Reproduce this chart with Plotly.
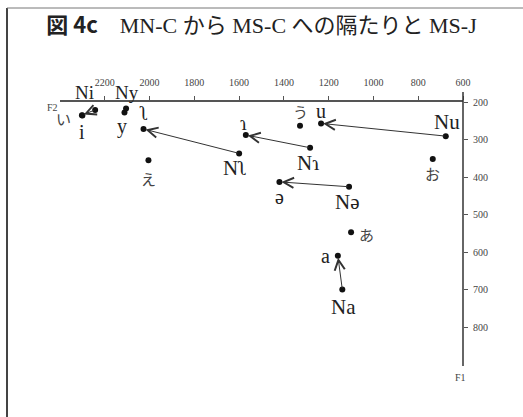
import plotly.graph_objects as go

# MS-C vowels (arrow targets)
ms_c_labels = ["i", "y", "ʅ", "ɿ", "u", "ə", "a"]
ms_c_f2 = [2302, 2112, 2027, 1570, 1234, 1420, 1159]
ms_c_f1 = [235, 228, 272, 288, 257, 413, 610]

# MN-C vowels (arrow origins)
mn_c_labels = ["Ni", "Ny", "Nʅ", "Nɿ", "Nu", "Nə", "Na"]
mn_c_f2 = [2243, 2105, 1600, 1283, 677, 1109, 1139]
mn_c_f1 = [221, 217, 337, 322, 291, 426, 700]

# MS-J vowels
ms_j_labels = ["い", "え", "あ", "お", "う"]
ms_j_f2 = [2300, 2005, 1100, 735, 1328]
ms_j_f1 = [236, 355, 547, 352, 263]

f2_ticks = [2200, 2000, 1800, 1600, 1400, 1200, 1000, 800, 600]
f1_ticks = [200, 300, 400, 500, 600, 700, 800]

W, H = 523, 417
ML, MR, MT, MB = 60, 60, 102, 51
PW, PH = W - ML - MR, H - MT - MB

def px_x(p):
    return (p - ML) / PW

def px_y(p):
    return 1 - (p - MT) / PH

# label offsets in screen pixels (dx right, dy down)
label_offsets = {
    "Ni": (-11, -17), "Ny": (1, -16), "Nʅ": (-4, 15), "Nɿ": (-2, 15),
    "Nu": (1, -14), "Nə": (-2, 15), "Na": (1, 17),
    "i": (0, 17), "y": (-2, 14), "ʅ": (0, -16), "ɿ": (-2, -12),
    "u": (0, -12), "ə": (0, 15), "a": (-12, 0),
    "い": (-19, 3), "え": (0, 18), "あ": (15, 2), "お": (0, 14), "う": (0, -14),
}
# labels that sit in the crowded strip beside the F2 tick labels
label_sizes = {"Ni": 19, "Ny": 19}

serif = "Liberation Serif, DejaVu Serif, Noto Sans CJK JP, serif"
jp = "Noto Sans CJK JP, sans-serif"

fig = go.Figure()
all_f2 = ms_c_f2 + mn_c_f2 + ms_j_f2
all_f1 = ms_c_f1 + mn_c_f1 + ms_j_f1
fig.add_trace(go.Scatter(
    x=all_f2, y=all_f1, mode="markers",
    marker=dict(size=6, color="#111"), hoverinfo="skip", showlegend=False,
))

annotations = []
# arrows MN-C -> MS-C
for x0, y0, x1, y1 in zip(mn_c_f2, mn_c_f1, ms_c_f2, ms_c_f1):
    annotations.append(dict(
        x=x1, y=y1, ax=x0, ay=y0, xref="x", yref="y", axref="x", ayref="y",
        showarrow=True, arrowhead=5, arrowsize=2.0, arrowwidth=1,
        arrowcolor="#333", standoff=2, text="",
    ))

def add_labels(labels, xs, ys, size, color, family):
    for lab, x, y in zip(labels, xs, ys):
        dx, dy = label_offsets[lab]
        annotations.append(dict(
            x=x, y=y, xref="x", yref="y", text=lab, showarrow=False,
            xshift=dx, yshift=-dy,
            font=dict(size=label_sizes.get(lab, size), color=color, family=family),
        ))

add_labels(mn_c_labels, mn_c_f2, mn_c_f1, 21, "#222", serif)
add_labels(ms_c_labels, ms_c_f2, ms_c_f1, 20, "#222", serif)
add_labels(ms_j_labels, ms_j_f2, ms_j_f1, 15, "#444", jp)

# axis names
annotations.append(dict(x=px_x(45), y=px_y(100), xref="paper", yref="paper", text="F2",
                        showarrow=False, font=dict(size=10, color="#444", family=serif)))
annotations.append(dict(x=px_x(468), y=px_y(385), xref="paper", yref="paper", text="F1",
                        showarrow=False, font=dict(size=10, color="#444", family=serif)))

shapes = [
    # F1 axis line, running a little above the F2 axis
    dict(type="line", xref="paper", yref="paper", x0=1, x1=1, y0=0, y1=px_y(92),
         line=dict(color="#333", width=1.5)),
    # frame (left and top edges)
    dict(type="line", xref="paper", yref="paper", x0=px_x(7), x1=px_x(7), y0=px_y(8), y1=px_y(420),
         line=dict(color="#444", width=2)),
    dict(type="line", xref="paper", yref="paper", x0=px_x(7), x1=px_x(530), y0=px_y(8), y1=px_y(8),
         line=dict(color="#777", width=1)),
]

fig.update_layout(
    width=W, height=H, margin=dict(l=ML, r=MR, t=MT, b=MB),
    paper_bgcolor="white", plot_bgcolor="white",
    title=dict(
        text="<span style=\"font-family:'Noto Sans CJK JP'\"><b>図 4c</b></span>　MN-C から MS-C への隔たりと MS-J",
        x=0.5, xref="container", y=1 - 25 / H, yref="container", xanchor="center", yanchor="middle",
        font=dict(size=22, color="#222", family=serif),
    ),
    xaxis=dict(
        range=[2400, 600], side="top", tickvals=f2_ticks, ticks="outside", ticklen=4,
        tickcolor="#555", showline=True, linecolor="#555", linewidth=1.5,
        showgrid=False, zeroline=False, tickfont=dict(size=10, color="#444", family=serif),
        ticklabelstandoff=6,
    ),
    yaxis=dict(
        range=[904, 200], side="right", tickvals=f1_ticks, ticks="outside", ticklen=4,
        tickcolor="#555", showline=False, showgrid=False, zeroline=False,
        tickfont=dict(size=10, color="#444", family=serif), ticklabelstandoff=3,
    ),
    annotations=annotations, shapes=shapes,
)

fig.write_html("out.html")
